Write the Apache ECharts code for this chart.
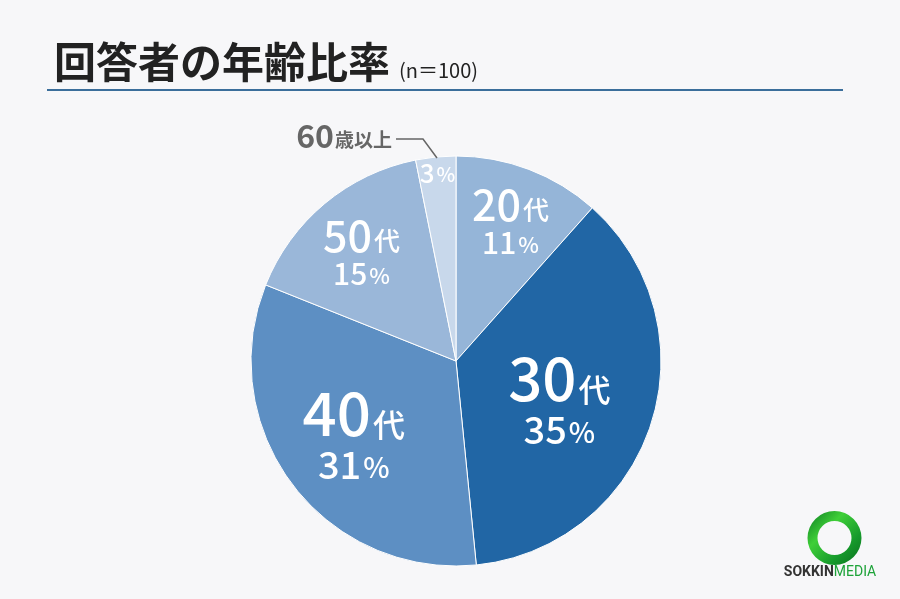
<!DOCTYPE html>
<html>
<head>
<meta charset="utf-8">
<script src="https://cdn.jsdelivr.net/npm/echarts@6/dist/echarts.min.js"></script>
<style>
html,body{margin:0;padding:0;background:#f7f7f9;}
#main{width:900px;height:599px;}
</style>
</head>
<body>
<div id="main"></div>
<script>
const categories = ['20代', '30代', '40代', '50代', '60歳以上'];
const values = [11, 35, 31, 15, 3];
const titleText = '回答者の年齢比率';
const sampleText = '(n＝100)';

const colors = ['#95b5d8', '#2166a5', '#5d8fc3', '#9ab7d9', '#c8d8eb'];
const sizeClass = ['m', 'l', 'l', 'm', 's'];
const offsets = [[17, -41], [3, 7], [-18, 11], [-27, -27], [-8, -83]];
const lineHeights = { l: [58, 44], m: [42, 34], s: [28, 28] };

const FONT = '"Noto Sans CJK JP", "Noto Sans", sans-serif';
const W = 500;

function richFor(c) {
  const s = {
    l: { n: 60, u: 32, p: 38, q: 28 },
    m: { n: 43, u: 26, p: 30, q: 22 },
    s: { n: 26, u: 20, p: 26, q: 20 }
  }[c];
  const lh = lineHeights[c];
  return {
    n: { fontSize: s.n, fontWeight: W, color: '#fff', fontFamily: FONT, lineHeight: lh[0] },
    u: { fontSize: s.u, fontWeight: W, color: '#fff', fontFamily: FONT, lineHeight: lh[0], padding: [s.n - s.u - 6, 0, 0, 2] },
    p: { fontSize: s.p, fontWeight: W, color: '#fff', fontFamily: FONT, lineHeight: lh[1] },
    q: { fontSize: s.q, fontWeight: W, color: '#fff', fontFamily: FONT, lineHeight: lh[1], padding: [s.p - s.q - 4, 0, 0, 2] }
  };
}

const pieData = categories.map((name, i) => ({
  name: name,
  value: values[i],
  itemStyle: { color: colors[i] },
  label: {
    offset: offsets[i],
    rich: richFor(sizeClass[i]),
    formatter: sizeClass[i] === 's'
      ? '{p|' + values[i] + '}{q|%}'
      : '{n|' + name.replace('代', '') + '}{u|代}\n{p|' + values[i] + '}{q|%}'
  }
}));

const outerData = categories.map((name, i) => ({
  name: name,
  value: values[i],
  label: i === 4 ? {
    show: true,
    position: 'outside',
    formatter: '{a|' + name.slice(0, 2) + '}{b|' + name.slice(2) + '}',
    rich: {
      a: { fontSize: 32, fontWeight: 'bold', color: '#666', fontFamily: FONT },
      b: { fontSize: 19, fontWeight: 'bold', color: '#666', fontFamily: FONT, padding: [7, 0, 0, 1] }
    }
  } : { show: false },
  labelLine: { show: i === 4, lineStyle: { color: '#666', width: 1.5 } }
}));

const chart = echarts.init(document.getElementById('main'), null, { renderer: 'canvas' });
chart.setOption({
  backgroundColor: '#f7f7f9',
  animation: false,
  title: {
    text: '{a|' + titleText + '} {b|' + sampleText + '}',
    left: 49,
    top: 30,
    textStyle: {
      rich: {
        a: { fontSize: 42, fontWeight: 'bold', color: '#222', fontFamily: FONT, lineHeight: 54 },
        b: { fontSize: 20, fontWeight: 'normal', color: '#222', fontFamily: FONT, padding: [16, 0, 0, 4] }
      }
    }
  },
  graphic: [
    { type: 'line', shape: { x1: 47, y1: 90, x2: 843, y2: 90 }, style: { stroke: '#3b6e9b', lineWidth: 2 } },
    {
      type: 'ring', shape: { cx: 834.5, cy: 538, r: 27, r0: 17 },
      style: {
        fill: new echarts.graphic.LinearGradient(0, 0, 1, 1, [
          { offset: 0, color: '#0b7a22' },
          { offset: 0.35, color: '#3fcf38' },
          { offset: 0.7, color: '#169a2c' },
          { offset: 1, color: '#0a6e1e' }
        ])
      }
    },
    {
      type: 'text', x: 830, y: 572,
      style: {
        text: '{a|SOKKIN}{b|MEDIA}',
        align: 'center', verticalAlign: 'middle',
        rich: {
          a: { fontSize: 14, fontWeight: 'bold', fill: '#333', fontFamily: '"Roboto", sans-serif' },
          b: { fontSize: 14, fill: '#1ea33a', fontFamily: '"Roboto", sans-serif' }
        }
      }
    }
  ],
  series: [
    {
      type: 'pie',
      center: [456, 361],
      radius: [0, 205],
      startAngle: 90,
      clockwise: true,
      silent: true,
      itemStyle: { borderColor: '#ffffff', borderWidth: 1 },
      label: { show: true, position: 'inside' },
      labelLine: { show: false },
      emphasis: { disabled: true },
      data: pieData
    },
    {
      type: 'pie',
      center: [456, 361],
      radius: [0, 205],
      startAngle: 90,
      clockwise: true,
      silent: true,
      z: 5,
      itemStyle: { color: 'rgba(0,0,0,0)', borderWidth: 0 },
      emphasis: { disabled: true },
      labelLayout: function (p) {
        if (p.dataIndex === 4) {
          return {
            x: 392, y: 136, align: 'right', verticalAlign: 'middle',
            labelLinePoints: [[437, 158], [423, 139], [396, 139]]
          };
        }
      },
      data: outerData
    }
  ]
});
</script>
</body>
</html>
